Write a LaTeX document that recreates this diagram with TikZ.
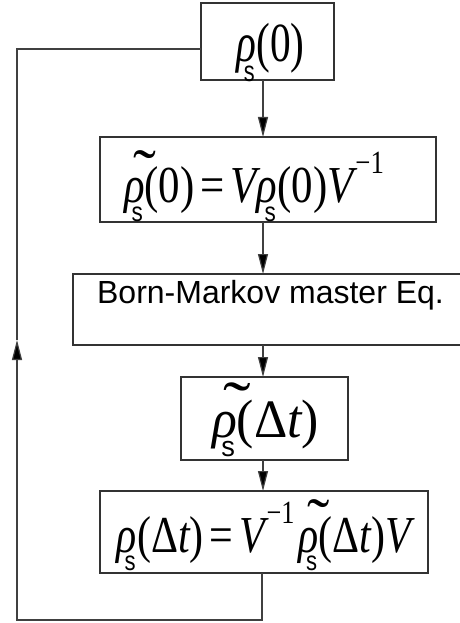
\documentclass[tikz,border=0pt]{standalone}
\usepackage{fontspec}
\setmainfont{Liberation Serif}
\setsansfont{Liberation Sans}
\usepackage{graphicx}
\usetikzlibrary{arrows.meta,calc}
\newfontfamily\tms{Liberation Serif}
\newcommand\rh{\raisebox{0pt}[0pt][0pt]{\itshape ρ}}
\newcommand\sbs{\makebox[0pt][l]{\kern-0.3em\raisebox{-0.36em}[0pt][0pt]{\fontsize{21}{21}\selectfont\sffamily s}}}
\newcommand\tld{\makebox[0pt][l]{\kern0.22em\raisebox{0.2em}[0pt][0pt]{\scalebox{1.6}[1.2]{\char"02DC}}}}
\newcommand\spr{\kern0.04em\raisebox{0.55em}[0pt][0pt]{\fontsize{25}{25}\selectfont −1}}
\newcommand\eqs{\kern0.14em=\kern0.14em}
\newcommand\iV{{\itshape V}}
\newcommand\itt{{\itshape t}}
\newcommand\fbx[5]{\makebox[0pt]{\hspace*{#1}\raisebox{#2}[0pt][0pt]{\resizebox*{#3}{#4}{\tms\fontsize{40}{40}\selectfont #5}}}}
\begin{document}
\begin{tikzpicture}[x=1pt,y=-1pt,
  box/.style={draw=black!80, line width=1.2pt, inner sep=0pt, outer sep=0pt, rectangle},
  cn/.style={draw=black!75, line width=1.2pt},
  arr/.style={-{Triangle[length=20pt,width=10pt,fill=black]}}]
\useasboundingbox (0,0) rectangle (459,623);
\node[box, minimum width=133pt, minimum height=77pt] (b1) at (267.5,41.5)
  {\fbx{6pt}{-20.35pt}{68pt}{50pt}{\rh\sbs(0)}};
\node[box, minimum width=336pt, minimum height=85pt] (b2) at (268,179.5)
  {\fbx{-28pt}{-23pt}{260pt}{47pt}{\tld\rh\sbs(0)\eqs\iV\rh\sbs(0)\iV\spr}};
\node[box, minimum width=389pt, minimum height=71pt] (b3) at (267.5,309.5)
  {\makebox[0pt]{\hspace*{6pt}\raisebox{6.5pt}[0pt][0pt]{\sffamily\fontsize{32}{32}\selectfont Born-Markov master Eq.}}};
\node[box, minimum width=167pt, minimum height=83pt] (b4) at (264.5,418.5)
  {\fbx{2pt}{-18.5pt}{107pt}{49pt}{\tld\rh\sbs(Δ\itt)}};
\node[box, minimum width=328pt, minimum height=82pt] (b5) at (264,532)
  {\fbx{0pt}{-20pt}{294pt}{47pt}{\rh\sbs(Δ\itt)\eqs\iV\spr\kern0.1em\tld\rh\sbs(Δ\itt)\iV}};
\coordinate (ax) at (263,0);
\draw[cn,arr] (b1.south -| ax) -- (b2.north -| ax);
\draw[cn,arr] (b2.south -| ax) -- (b3.north -| ax);
\draw[cn,arr] (b3.south -| ax) -- (b4.north -| ax);
\draw[cn,arr] (b4.south -| ax) -- (b5.north -| ax);
\coordinate (lt) at (17,49);
\coordinate (lb) at (17,620);
\coordinate (rb) at (262,620);
\coordinate (la) at (17,340);
\draw[cn,arr] (b5.south -| rb) -- (rb) -- (lb) -- (la);
\draw[cn] (la) -- (lt) -- (lt -| b1.west);
\end{tikzpicture}
\end{document}
